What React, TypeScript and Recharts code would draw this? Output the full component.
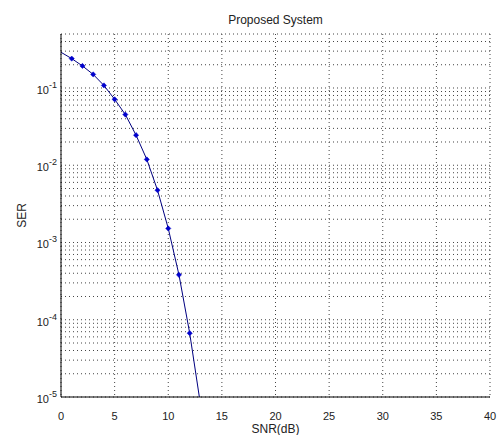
import React from 'react';
import { LineChart, Line, XAxis, YAxis, CartesianGrid, Label } from 'recharts';

const snr = [0, 1, 2, 3, 4, 5, 6, 7, 8, 9, 10, 11, 12, 13];
const ser = [0.29, 0.24, 0.193, 0.15, 0.108, 0.0714, 0.0453, 0.0245, 0.0119, 0.00475, 0.00152, 0.000381, 0.000067, 0.0000081];
const xTicks = [0, 5, 10, 15, 20, 25, 30, 35, 40];
const decadeExponents = [-5, -4, -3, -2, -1];
const minorMultipliers = [1, 2, 3, 4, 5, 6, 7, 8, 9];

const data = snr.map((s, i) => ({ snr: s, ser: ser[i] }));

const yTicks: number[] = [];
decadeExponents.forEach((e) => {
  minorMultipliers.forEach((m) => {
    const v = m * Math.pow(10, e);
    if (v <= 0.5 + 1e-12) yTicks.push(Number(v.toPrecision(3)));
  });
});

const FONT = '"Liberation Sans", Arial, sans-serif';

const YTick = (props: any) => {
  const { y, payload } = props;
  const v = payload.value;
  const e = Math.round(Math.log10(v));
  if (Math.abs(v - Math.pow(10, e)) > Math.pow(10, e) * 1e-6) return null;
  return (
    <text x={57} y={y + 6} textAnchor="end" fontFamily={FONT} fontSize={11} fill="#222">
      <tspan>10</tspan>
      <tspan dy={-6} fontSize={9}>{String(e)}</tspan>
    </text>
  );
};

const XTick = (props: any) => {
  const { x, y, payload } = props;
  return (
    <text x={x} y={y + 15} textAnchor="middle" fontFamily={FONT} fontSize={11} fill="#222">
      {payload.value}
    </text>
  );
};

const Diamond = (props: any) => {
  const { cx, cy, index, payload } = props;
  if (index === 0 || payload.ser < 1e-5) return <g key={index} />;
  const r = 2.6;
  return (
    <path
      key={index}
      d={`M${cx},${cy - r} L${cx + r},${cy} L${cx},${cy + r} L${cx - r},${cy} Z`}
      fill="#0000cc"
      stroke="#0000cc"
      strokeWidth={0.5}
    />
  );
};

export default function App() {
  return (
    <div style={{ position: 'absolute', left: 0, top: 0, width: 498, height: 435, background: '#fff' }}>
      <div
        style={{
          position: 'absolute',
          left: 0,
          width: 551,
          top: 13,
          textAlign: 'center',
          fontFamily: FONT,
          fontSize: 12,
          color: '#222',
        }}
      >
        Proposed System
      </div>
      <LineChart width={498} height={435} data={data} margin={{ top: 34, right: 8, bottom: 0, left: 0 }}>
        <CartesianGrid stroke="#444" strokeDasharray="1 3" />
        <XAxis
          dataKey="snr"
          type="number"
          domain={[0, 40]}
          ticks={xTicks}
          height={38}
          tick={<XTick />}
          tickLine={false}
          axisLine={{ stroke: '#000' }}
          interval={0}
        >
          <Label
            value="SNR(dB)"
            position="insideBottom"
            offset={2}
            style={{ fontFamily: FONT, fontSize: 12, fill: '#222' }}
          />
        </XAxis>
        <XAxis xAxisId="top" orientation="top" height={0} tick={false} tickLine={false} axisLine={{ stroke: '#000' }} />
        <YAxis
          dataKey="ser"
          scale="log"
          domain={[1e-5, 0.5]}
          allowDataOverflow
          ticks={yTicks}
          interval={0}
          width={61}
          tick={<YTick />}
          tickLine={false}
          axisLine={{ stroke: '#000' }}
        >
          <Label
            value="SER"
            angle={-90}
            position="insideLeft"
            offset={22}
            style={{ fontFamily: FONT, fontSize: 12, fill: '#222', textAnchor: 'middle' }}
          />
        </YAxis>
        <YAxis yAxisId="right" orientation="right" width={0} tick={false} tickLine={false} axisLine={{ stroke: '#000' }} />
        <Line
          dataKey="ser"
          stroke="#000080"
          strokeWidth={1}
          dot={<Diamond />}
          activeDot={false}
          isAnimationActive={false}
        />
      </LineChart>
    </div>
  );
}
